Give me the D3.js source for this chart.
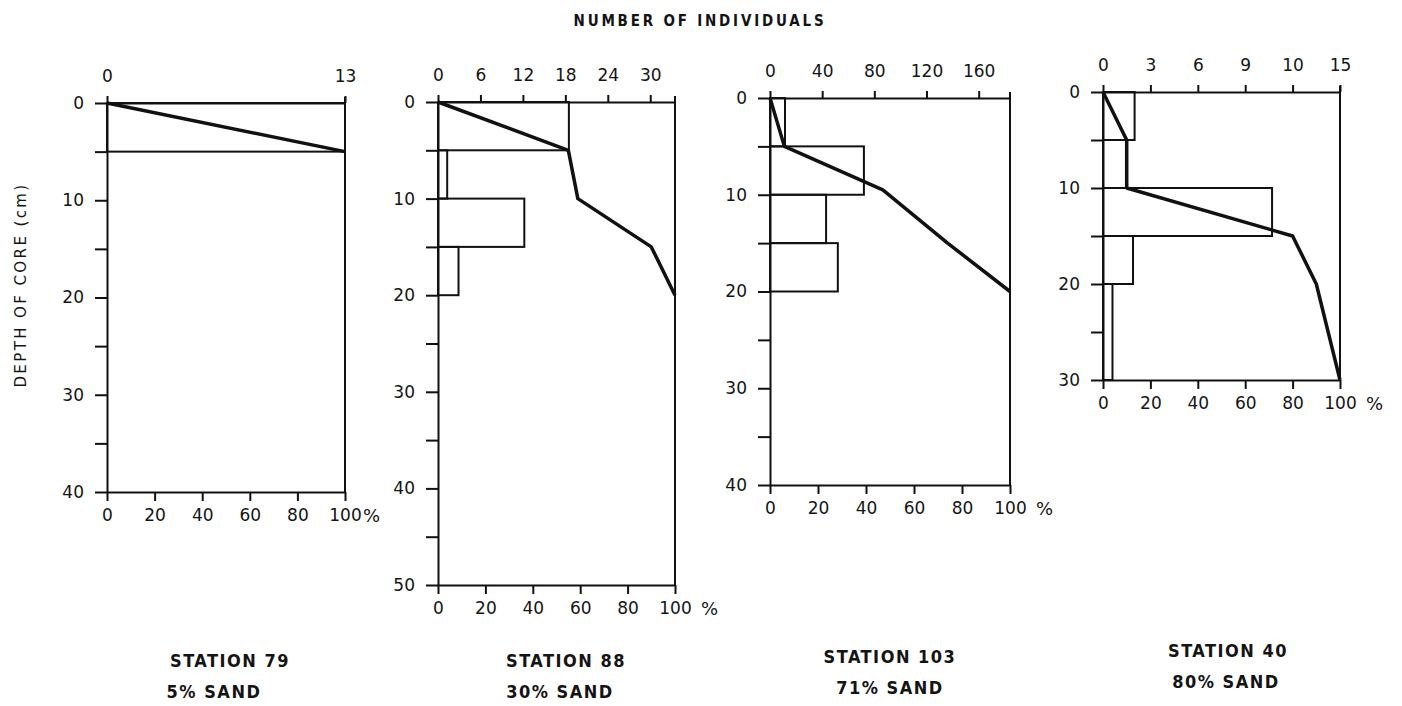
<!DOCTYPE html>
<html>
<head>
<meta charset="utf-8">
<script src="https://cdn.jsdelivr.net/npm/d3@7"></script>
<style>
  body { margin: 0; background: #fff; }
  svg { display: block; }
  text { font-family: "DejaVu Sans", sans-serif; fill: #141414; }
  .caption { font-family: "DejaVu Sans Condensed", "DejaVu Sans", sans-serif; font-weight: bold; }
</style>
</head>
<body>
<svg id="chart" width="1402" height="706"></svg>
<script>
// stations and their sand content
const stations = ["STATION 79", "STATION 88", "STATION 103", "STATION 40"];
const sandLabels = ["5% SAND", "30% SAND", "71% SAND", "80% SAND"];

// depth of each core (cm)
const coreDepth = [40, 50, 40, 30];

// number of individuals, top axes
const countMax = [13, 33.5, 184, 15];
const countTicks = [[0, 13], [0, 6, 12, 18, 24, 30], [0, 40, 80, 120, 160], [0, 3, 6, 9, 12, 15]];
const countTickLabels = [["0", "13"], ["0", "6", "12", "18", "24", "30"], ["0", "40", "80", "120", "160"], ["0", "3", "6", "9", "10", "15"]];

// bars: [top cm, bottom cm, individuals]
const bars79 = [[0, 5, 13]];
const bars88 = [[0, 5, 18.5], [5, 10, 1.3], [10, 15, 12.2], [15, 20, 2.9]];
const bars103 = [[0, 5, 11.5], [5, 10, 72], [10, 15, 43], [15, 20, 52]];
const bars40 = [[0, 5, 2], [5, 10, 1.5], [10, 15, 10.7], [15, 20, 1.9], [20, 30, 0.6]];

// cumulative percent: [depth cm, %]
const cum79 = [[0, 0], [5, 100]];
const cum88 = [[0, 0], [5, 55], [10, 59], [15, 90], [20, 100]];
const cum103 = [[0, 0], [5, 6], [9.5, 47], [15, 74], [20, 100]];
const cum40 = [[0, 0], [5, 10], [10, 10], [15, 80], [20, 90], [30, 100]];

const pctTicks = [0, 20, 40, 60, 80, 100];
const pctSuffix = ["%", "%", "%", "%"];

const bars = [bars79, bars88, bars103, bars40];
const cums = [cum79, cum88, cum103, cum40];

// pixel layout of each panel
const panels = [
  { left: 107, right: 345, top: 103, bottom: 492, t1x: 230, t2x: 214, ty: 667, gap: 1 },
  { left: 438, right: 675, top: 102, bottom: 585, t1x: 566, t2x: 560, ty: 667, gap: 9 },
  { left: 770, right: 1010, top: 98, bottom: 485, t1x: 890, t2x: 890, ty: 663, gap: 9 },
  { left: 1103, right: 1340, top: 92, bottom: 380, t1x: 1228, t2x: 1226, ty: 657, gap: 9 }
];

const ink = "#111";
const svg = d3.select("#chart");

function styleAxis(g) {
  g.select(".domain").attr("stroke", ink).attr("stroke-width", 2);
  g.selectAll(".tick line").attr("stroke", ink).attr("stroke-width", 2);
  g.selectAll(".tick text").attr("font-size", 17).attr("fill", "#141414")
    .attr("font-family", "\"DejaVu Sans\", sans-serif");
}

panels.forEach((p, i) => {
  const y = d3.scaleLinear().domain([0, coreDepth[i]]).range([p.top, p.bottom]);
  const xc = d3.scaleLinear().domain([0, countMax[i]]).range([p.left, p.right]);
  const xp = d3.scaleLinear().domain([0, 100]).range([p.left, p.right]);
  const g = svg.append("g").attr("class", "panel");

  // histogram of individuals
  g.selectAll("rect.bar")
    .data(bars[i])
    .join("rect")
    .attr("class", "bar")
    .attr("x", xc(0))
    .attr("y", d => y(d[0]))
    .attr("width", d => xc(d[2]) - xc(0))
    .attr("height", d => y(d[1]) - y(d[0]))
    .attr("fill", "none")
    .attr("stroke", ink)
    .attr("stroke-width", 2);

  // right frame
  g.append("line")
    .attr("x1", xp(100)).attr("x2", xp(100))
    .attr("y1", y(0) - 6).attr("y2", y(coreDepth[i]))
    .attr("stroke", ink).attr("stroke-width", 2);

  // cumulative percent line
  const line = d3.line().x(d => xp(d[1])).y(d => y(d[0]));
  g.append("path")
    .datum(cums[i])
    .attr("d", line)
    .attr("fill", "none")
    .attr("stroke", ink)
    .attr("stroke-width", 3.5)
    .attr("stroke-linejoin", "round");

  // depth axis
  g.append("g")
    .attr("transform", `translate(${p.left},0)`)
    .call(d3.axisLeft(y)
      .tickValues(d3.range(0, coreDepth[i] + 1, 5))
      .tickFormat(d => d % 10 === 0 ? d : "")
      .tickSize(12).tickPadding(11).tickSizeOuter(0))
    .call(styleAxis);

  // individuals axis
  g.append("g")
    .attr("transform", `translate(0,${p.top})`)
    .call(d3.axisTop(xc)
      .tickValues(countTicks[i])
      .tickFormat((d, j) => countTickLabels[i][j])
      .tickSize(7).tickPadding(14).tickSizeOuter(0))
    .call(styleAxis);

  // percent axis
  g.append("g")
    .attr("transform", `translate(0,${p.bottom})`)
    .call(d3.axisBottom(xp)
      .tickValues(pctTicks)
      .tickSize(9).tickPadding(8).tickSizeOuter(0))
    .call(styleAxis);

  g.append("text")
    .attr("x", xp(100) + 17 + p.gap)
    .attr("y", p.bottom + 17)
    .attr("dy", "0.71em")
    .attr("font-size", 18)
    .text(pctSuffix[i]);

  // station captions
  g.append("text")
    .attr("class", "caption")
    .attr("x", p.t1x).attr("y", p.ty)
    .attr("text-anchor", "middle")
    .attr("font-size", 18)
    .attr("letter-spacing", 1.5)
    .text(stations[i]);
  g.append("text")
    .attr("class", "caption")
    .attr("x", p.t2x).attr("y", p.ty + 31)
    .attr("text-anchor", "middle")
    .attr("font-size", 18)
    .attr("letter-spacing", 1.5)
    .text(sandLabels[i]);
});

// shared titles
svg.append("text")
  .attr("class", "caption")
  .attr("x", 700).attr("y", 26)
  .attr("text-anchor", "middle")
  .attr("font-size", 15)
  .attr("letter-spacing", 2.8)
  .text("NUMBER OF INDIVIDUALS");

svg.append("text")
  .attr("transform", "translate(26,285) rotate(-90)")
  .attr("text-anchor", "middle")
  .attr("font-size", 15)
  .attr("letter-spacing", 2.4)
  .text("DEPTH OF CORE (cm)");
</script>
</body>
</html>
